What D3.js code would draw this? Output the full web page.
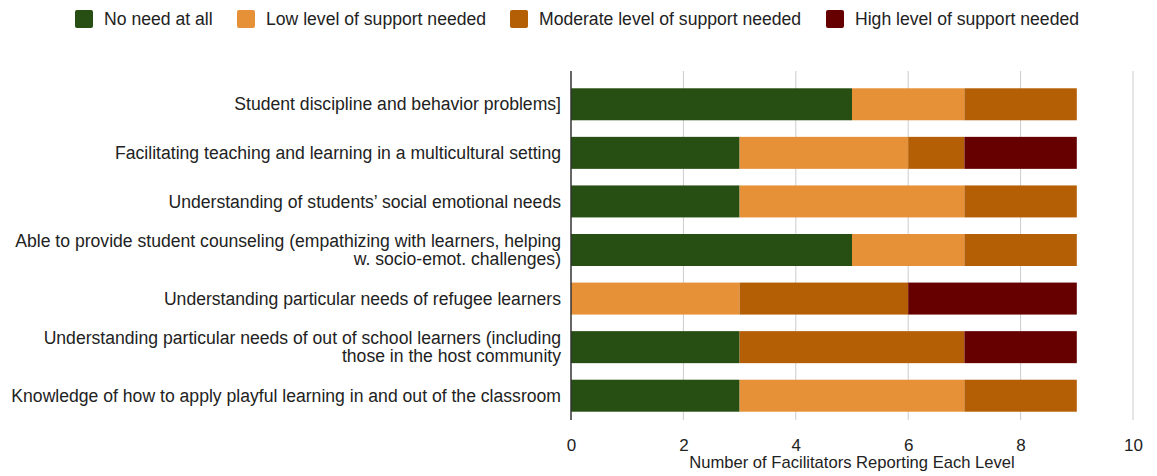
<!DOCTYPE html>
<html>
<head>
<meta charset="utf-8">
<style>
body { margin: 0; background: #fff; font-family: 'Liberation Sans', Arial, sans-serif; }
text { fill: #222; }
</style>
<script src="https://cdn.jsdelivr.net/npm/d3@7"></script>
</head>
<body>
<script>
var width = 1157, height = 476;

var categories = [
    ["Student discipline and behavior problems]"],
    ["Facilitating teaching and learning in a multicultural setting"],
    ["Understanding of students\u2019 social emotional needs"],
    ["Able to provide student counseling (empathizing with learners, helping", "w. socio-emot. challenges)"],
    ["Understanding particular needs of refugee learners"],
    ["Understanding particular needs of out of school learners (including", "those in the host community"],
    ["Knowledge of how to apply playful learning in and out of the classroom"]
];
var seriesNames = ["No need at all", "Low level of support needed", "Moderate level of support needed", "High level of support needed"];
var seriesColors = ["#274e13", "#e69138", "#b45f06", "#660000"];
var noNeed   = [5, 3, 3, 5, 0, 3, 3];
var lowNeed  = [2, 3, 4, 2, 3, 0, 4];
var modNeed  = [2, 1, 2, 2, 3, 4, 2];
var highNeed = [0, 2, 0, 0, 3, 2, 0];
var xTicks = [0, 2, 4, 6, 8, 10];
var xTitle = "Number of Facilitators Reporting Each Level";

var rows = categories.map(function (c, i) {
    return { idx: i, no: noNeed[i], low: lowNeed[i], mod: modNeed[i], high: highNeed[i] };
});
var keys = ["no", "low", "mod", "high"];
var stacked = d3.stack().keys(keys)(rows);

var svg = d3.select('body').append('svg')
    .attr('width', width)
    .attr('height', height);

var x = d3.scaleLinear().domain([0, 10]).range([571, 1133]);
var y = d3.scaleBand().domain(d3.range(categories.length)).range([80, 420]);
var barH = 32;

// gridlines
svg.append('g').selectAll('line')
    .data(xTicks.filter(function (t) { return t > 0; }))
    .enter().append('line')
    .attr('x1', function (d) { return x(d); })
    .attr('x2', function (d) { return x(d); })
    .attr('y1', 71).attr('y2', 420)
    .attr('stroke', '#cccccc').attr('stroke-width', 1);

// bars
svg.append('g').selectAll('g')
    .data(stacked)
    .enter().append('g')
    .attr('fill', function (d, i) { return seriesColors[i]; })
    .selectAll('rect')
    .data(function (d) { return d; })
    .enter().append('rect')
    .filter(function (d) { return d[1] > d[0]; })
    .attr('x', function (d) { return x(d[0]); })
    .attr('width', function (d) { return x(d[1]) - x(d[0]); })
    .attr('y', function (d) { return y(d.data.idx) + y.bandwidth() / 2 - barH / 2; })
    .attr('height', barH);

// zero axis line
svg.append('line')
    .attr('x1', x(0)).attr('x2', x(0))
    .attr('y1', 71).attr('y2', 420)
    .attr('stroke', '#333').attr('stroke-width', 1.5);

// x axis tick labels
var xAxis = d3.axisBottom(x).tickValues(xTicks).tickSize(0).tickPadding(0);
var gx = svg.append('g').attr('transform', 'translate(0,439)').call(xAxis);
gx.select('.domain').remove();
gx.selectAll('text')
    .attr('dy', '0.71em')
    .style('font-family', "'Liberation Sans', Arial, sans-serif")
    .style('font-size', '17px')
    .style('fill', '#222');

svg.append('text')
    .attr('x', x(5)).attr('y', 468)
    .attr('text-anchor', 'middle')
    .style('font-size', '16.6px')
    .text(xTitle);

// category labels
var labels = svg.append('g').selectAll('text')
    .data(categories)
    .enter().append('text')
    .attr('text-anchor', 'end')
    .style('font-size', '17.6px')
    .attr('y', function (d, i) { return y(i) + y.bandwidth() / 2 - (d.length - 1) * 9; });
labels.selectAll('tspan')
    .data(function (d) { return d; })
    .enter().append('tspan')
    .attr('x', 561)
    .attr('dy', function (d, j) { return j === 0 ? '0.35em' : '18'; })
    .text(function (d) { return d; });

// legend
var legendX = [75, 237, 510, 826];
var legend = svg.append('g').selectAll('g')
    .data(seriesNames)
    .enter().append('g')
    .attr('transform', function (d, i) { return 'translate(' + legendX[i] + ',10)'; });
legend.append('rect')
    .attr('width', 18).attr('height', 18).attr('rx', 2)
    .attr('fill', function (d, i) { return seriesColors[i]; });
legend.append('text')
    .attr('x', 29).attr('y', 15)
    .style('font-size', '17.6px')
    .text(function (d) { return d; });
</script>
</body>
</html>
